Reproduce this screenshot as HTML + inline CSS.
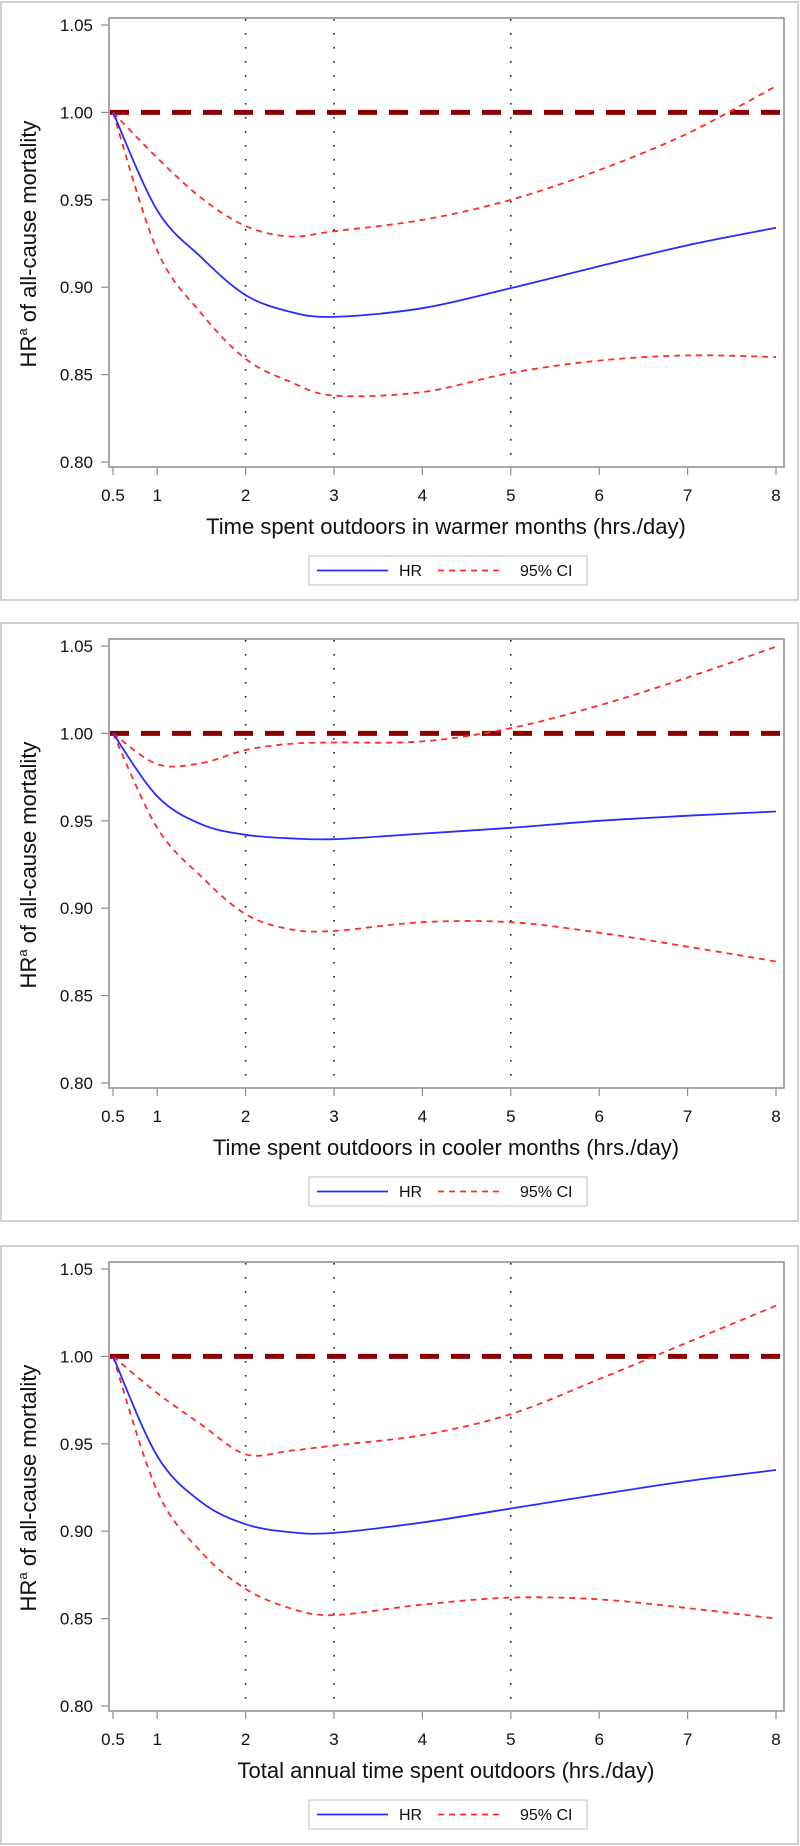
<!DOCTYPE html>
<html><head><meta charset="utf-8"><style>
html,body{margin:0;padding:0;background:#fff;}
svg{display:block;font-family:"Liberation Sans",Arial,sans-serif;}
</style></head><body>
<svg id="fig" width="800" height="1846" viewBox="0 0 800 1846" xmlns="http://www.w3.org/2000/svg"></svg>
<script>
const xs = [0.5, 1, 1.5, 2, 2.5, 3, 4, 5, 6, 7, 8];
const xTicks = [0.5, 1, 2, 3, 4, 5, 6, 7, 8];
const yTicks = [0.80, 0.85, 0.90, 0.95, 1.00, 1.05];
const refLines = [2, 3, 5];
const titles = ["Time spent outdoors in warmer months (hrs./day)", "Time spent outdoors in cooler months (hrs./day)", "Total annual time spent outdoors (hrs./day)"];
const hr1 = [1.0, 0.944, 0.917, 0.8955, 0.886, 0.883, 0.888, 0.8995, 0.912, 0.924, 0.934];
const up1 = [1.0, 0.974, 0.951, 0.935, 0.929, 0.932, 0.9385, 0.950, 0.967, 0.988, 1.015];
const lo1 = [1.0, 0.921, 0.885, 0.859, 0.846, 0.838, 0.840, 0.851, 0.858, 0.861, 0.860];
const hr2 = [1.0, 0.964, 0.948, 0.942, 0.940, 0.9395, 0.9427, 0.946, 0.950, 0.9529, 0.9553];
const up2 = [1.0, 0.9824, 0.983, 0.9905, 0.994, 0.9948, 0.9954, 1.003, 1.016, 1.032, 1.0496];
const lo2 = [1.0, 0.946, 0.918, 0.8966, 0.888, 0.887, 0.892, 0.892, 0.886, 0.878, 0.8695];
const hr3 = [1.0, 0.943, 0.9166, 0.904, 0.8995, 0.899, 0.905, 0.913, 0.921, 0.9287, 0.935];
const up3 = [1.0, 0.979, 0.961, 0.944, 0.946, 0.949, 0.955, 0.967, 0.987, 1.008, 1.029];
const lo3 = [1.0, 0.923, 0.888, 0.867, 0.856, 0.852, 0.858, 0.862, 0.861, 0.856, 0.850];
const panelsHR = [hr1, hr2, hr3];
const panelsUp = [up1, up2, up3];
const panelsLo = [lo1, lo2, lo3];
const panelTops = [2, 623, 1246];

const NS = "http://www.w3.org/2000/svg";
const svg = document.getElementById("fig");
function mk(tag, attrs, parent){const e=document.createElementNS(NS,tag);for(const k in attrs)e.setAttribute(k,attrs[k]);(parent||svg).appendChild(e);return e;}
function xS(v){return 113 + (v-0.5)/7.5*663;}
function smooth(pts){
  let d="M"+pts[0][0].toFixed(1)+","+pts[0][1].toFixed(1);
  for(let i=0;i<pts.length-1;i++){
    const p0=pts[Math.max(0,i-1)],p1=pts[i],p2=pts[i+1],p3=pts[Math.min(pts.length-1,i+2)];
    const c1x=p1[0]+(p2[0]-p0[0])/6,c1y=p1[1]+(p2[1]-p0[1])/6;
    const c2x=p2[0]-(p3[0]-p1[0])/6,c2y=p2[1]-(p3[1]-p1[1])/6;
    d+=" C"+c1x.toFixed(1)+","+c1y.toFixed(1)+" "+c2x.toFixed(1)+","+c2y.toFixed(1)+" "+p2[0].toFixed(1)+","+p2[1].toFixed(1);
  }
  return d;
}
panelTops.forEach((T,pi)=>{
  const yS=v=>T+460-(v-0.80)/0.25*437;
  const g=mk("g",{});
  
  
  const border=mk("rect",{x:1,y:T,width:797,height:598,fill:"#fff",stroke:"#d0d0d0","stroke-width":2},g);
  
  
  refLines.forEach(r=>{
    const l=mk("line",{x1:xS(r),x2:xS(r),y1:T+17,y2:T+465,stroke:"#222","stroke-width":1.6,"stroke-dasharray":"1.6 12.4"},g);
    
    
  });
  const nl=mk("line",{x1:110,x2:784,y1:yS(1.0),y2:yS(1.0),stroke:"#8b0000","stroke-width":5,"stroke-dasharray":"19 12"},g);
  
  
  const mkS=(arr,name,color,dash)=>{
    const p=mk("path",{d:smooth(arr.map((v,i)=>[xS(xs[i]),yS(v)])),fill:"none",stroke:color,"stroke-width":1.8},g);
    if(dash)p.setAttribute("stroke-dasharray",dash);
    
    
  };
  mkS(panelsUp[pi],'ci-upper-line','#ff2a2a','6 5');
  mkS(panelsLo[pi],'ci-lower-line','#ff2a2a','6 5');
  mkS(panelsHR[pi],'hr-line','#2a2aff',null);
  const fr=mk("rect",{x:109,y:T+16,width:675,height:449,fill:"none",stroke:"#8c8c8c","stroke-width":1.5},g);
  
  
  yTicks.forEach(v=>{
    mk("line",{x1:101,x2:109,y1:yS(v),y2:yS(v),stroke:"#8c8c8c","stroke-width":1.2},g);
    const t=mk("text",{x:93,y:yS(v)+6,"text-anchor":"end","font-size":17,fill:"#111"},g);
    t.textContent=v.toFixed(2);
    
    
  });
  xTicks.forEach(v=>{
    mk("line",{x1:xS(v),x2:xS(v),y1:T+465,y2:T+473,stroke:"#8c8c8c","stroke-width":1.2},g);
    const t=mk("text",{x:xS(v),y:T+499,"text-anchor":"middle","font-size":17,fill:"#111"},g);
    t.textContent=String(v);
    
    
  });
  const xt=mk("text",{x:446,y:T+532,"text-anchor":"middle","font-size":22,fill:"#111"},g);
  xt.textContent=titles[pi];
  
  
  const yt=mk("text",{x:0,y:0,"text-anchor":"middle","font-size":22,fill:"#111",transform:"translate(36,"+(T+242)+") rotate(-90)"},g);
  yt.innerHTML='HR<tspan font-size="13" dy="-9">a</tspan><tspan dy="9"> of all-cause mortality</tspan>';
  
  
  const lg=mk("g",{},g);
  
  
  mk("rect",{x:309,y:T+554,width:278,height:29,fill:"#fff",stroke:"#c8c8c8","stroke-width":1.2},lg);
  const e1=mk("line",{x1:317,x2:388,y1:T+568.5,y2:T+568.5,stroke:"#2a2aff","stroke-width":1.8},lg);
  
  
  const t1=mk("text",{x:399,y:T+574,"font-size":16,fill:"#111"},lg);t1.textContent="HR";
  const e2=mk("line",{x1:438,x2:504,y1:T+568.5,y2:T+568.5,stroke:"#ff2a2a","stroke-width":1.8,"stroke-dasharray":"6 5"},lg);
  
  
  const t2=mk("text",{x:520,y:T+574,"font-size":16,fill:"#111"},lg);t2.textContent="95% CI";
});
</script>
</body></html>
